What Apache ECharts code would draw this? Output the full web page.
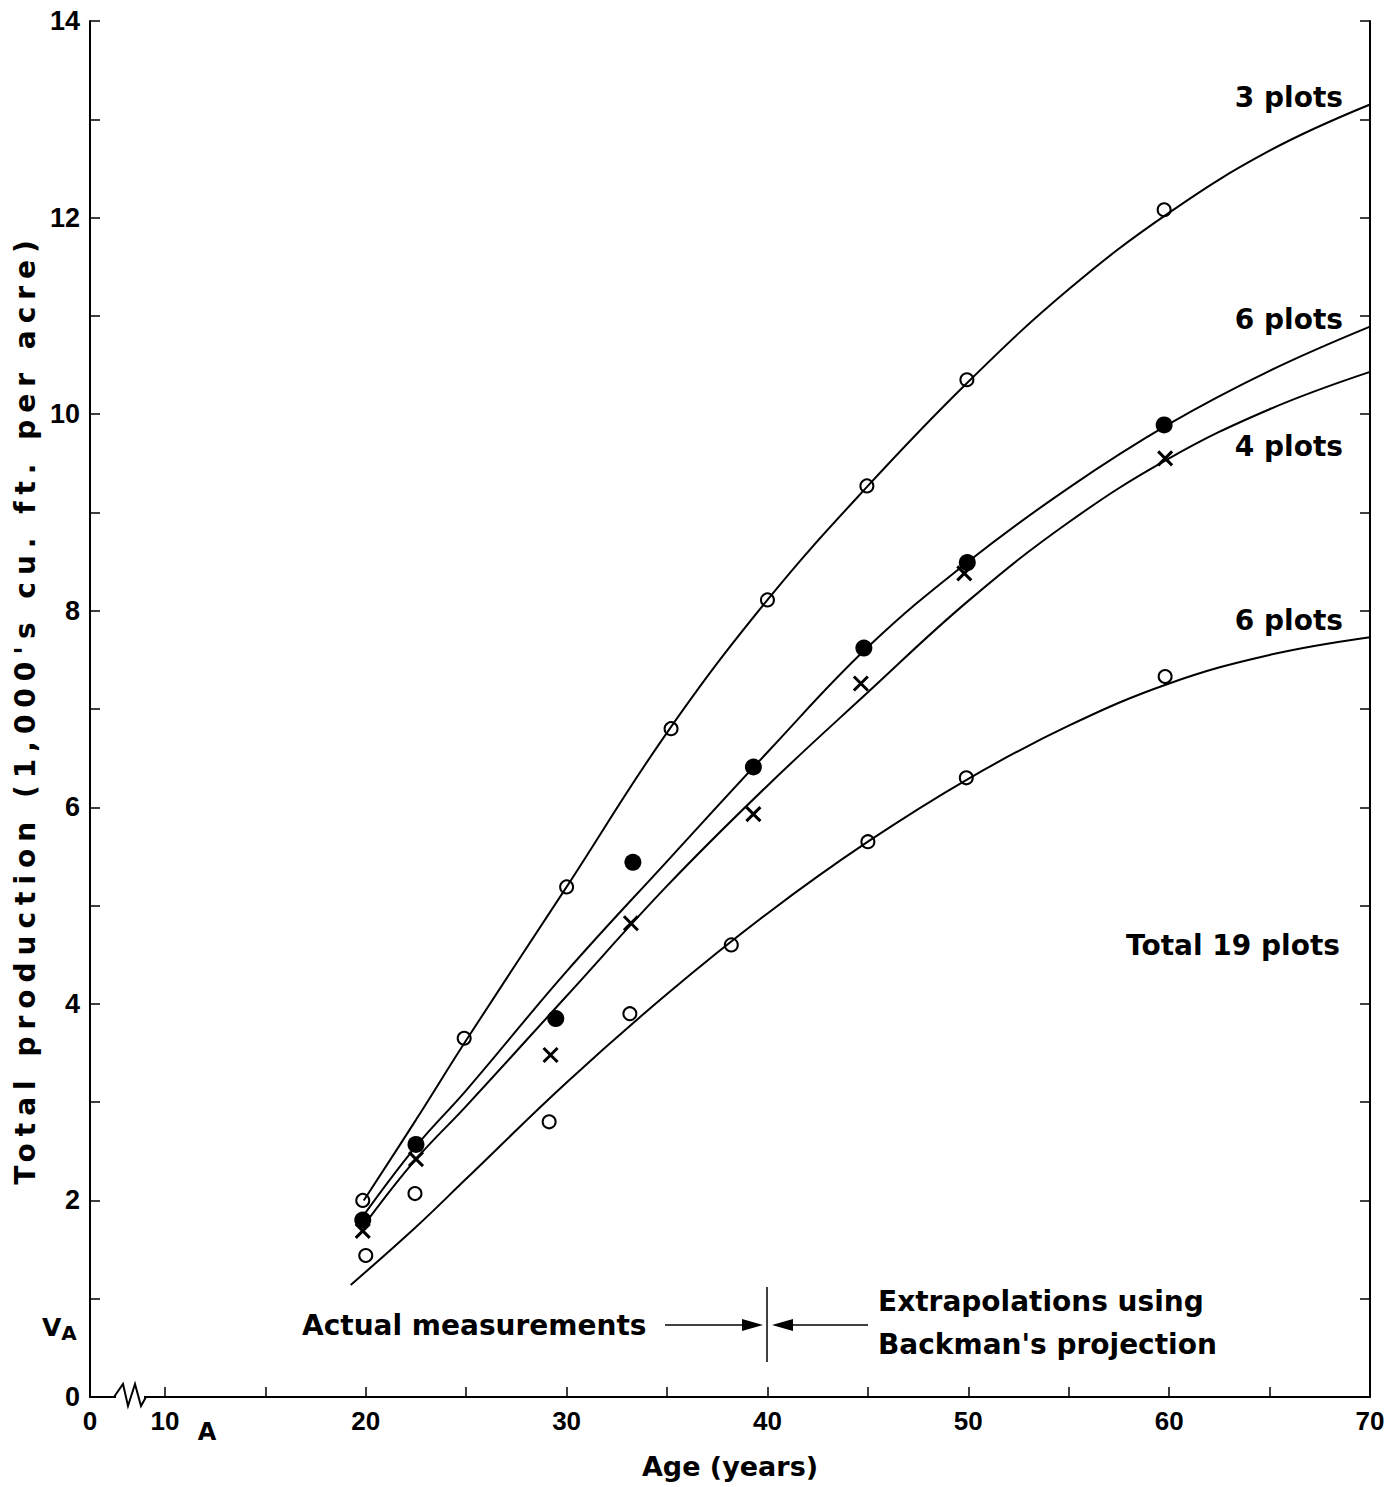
<!DOCTYPE html>
<html>
<head>
<meta charset="utf-8">
<script src="https://cdn.jsdelivr.net/npm/echarts@6/dist/echarts.min.js"></script>
<style>
html,body{margin:0;padding:0;background:#fff;}
#chart{width:1398px;height:1487px;}
</style>
</head>
<body>
<div id="chart"></div>
<script>
// ---------------- DATA ----------------
// x value at the broken-axis origin, labelled "0"
const X_ORIGIN = 6.27;
const xTickValues = [X_ORIGIN, 10, 20, 30, 40, 50, 60, 70];
const xTickLabels = ['0', '10', '20', '30', '40', '50', '60', '70'];
const xTickMarks = [10, 15, 20, 25, 30, 35, 40, 45, 50, 55, 60, 65];
const yTickValues = [0, 2, 4, 6, 8, 10, 12, 14];
const yTickLabels = ['0', '2', '4', '6', '8', '10', '12', '14'];

// Fitted curves
const curve3Age = [19.9, 22.5, 25, 30, 35, 40, 45, 50, 55, 60, 65, 70];
const curve3Vol = [2.0, 2.82, 3.63, 5.19, 6.76, 8.11, 9.27, 10.33, 11.27, 12.05, 12.68, 13.15];

const curve6aAge = [19.9, 22.5, 25, 30, 35, 40, 45, 50, 55, 60, 65, 70];
const curve6aVol = [1.85, 2.55, 3.12, 4.33, 5.45, 6.56, 7.63, 8.50, 9.25, 9.90, 10.44, 10.89];

const curve4Age = [20.1, 22.5, 25, 30, 35, 40, 45, 50, 55, 60, 65, 70];
const curve4Vol = [1.80, 2.42, 2.96, 4.08, 5.20, 6.22, 7.17, 8.10, 8.90, 9.55, 10.05, 10.43];

const curve6bAge = [19.25, 22.5, 25, 30, 35, 40, 45, 50, 55, 60, 65, 70];
const curve6bVol = [1.14, 1.73, 2.22, 3.20, 4.10, 4.92, 5.65, 6.29, 6.83, 7.26, 7.55, 7.73];

// Observed points
const pts3Age = [19.85, 24.9, 30.0, 35.2, 40.0, 44.95, 49.93, 59.75];
const pts3Vol = [2.00, 3.65, 5.19, 6.80, 8.11, 9.27, 10.35, 12.08];

const pts6aAge = [19.85, 22.5, 29.46, 33.3, 39.3, 44.8, 49.95, 59.75];
const pts6aVol = [1.80, 2.57, 3.85, 5.44, 6.41, 7.62, 8.49, 9.89];

const pts4Age = [19.85, 22.5, 29.2, 33.2, 39.3, 44.65, 49.8, 59.8];
const pts4Vol = [1.69, 2.42, 3.48, 4.82, 5.93, 7.26, 8.38, 9.55];

const pts6bAge = [20.0, 22.45, 29.13, 33.15, 38.2, 45.0, 49.9, 59.8];
const pts6bVol = [1.44, 2.07, 2.80, 3.90, 4.60, 5.65, 6.30, 7.33];

// ---------------- CHART ----------------
const zip = (a, b) => a.map((v, i) => [v, b[i]]);
const BLACK = '#000';
const TXT = 'bold 28px "DejaVu Sans"';
const TICKFONT = 'Liberation Sans';
const Y_NAME = "Total production (1,000's cu. ft. per acre)";

function curve(name, ax, vy) {
  return {
    name: name, type: 'line', data: zip(ax, vy), showSymbol: false,
    smooth: 0.4,
    lineStyle: { color: BLACK, width: 2 }, z: 2, silent: true
  };
}
function pts(name, ax, vy, symbol, size, fill, bw) {
  return {
    name: name, type: 'scatter', data: zip(ax, vy), symbol: symbol, symbolSize: size,
    itemStyle: { color: fill, borderColor: BLACK, borderWidth: bw, opacity: 1 },
    z: 3, silent: true
  };
}

function txt(x, y, text, align) {
  return {
    type: 'text', x: x, y: y, z: 100,
    style: { text: text, font: TXT, fill: BLACK, textAlign: align, align: align,
             textVerticalAlign: 'middle', verticalAlign: 'middle' }
  };
}

const chart = echarts.init(document.getElementById('chart'), null, { renderer: 'svg' });
chart.setOption({
  animation: false,
  backgroundColor: '#fff',
  grid: { left: 90, right: 28, top: 21, bottom: 90 },
  xAxis: {
    type: 'value', min: X_ORIGIN, max: 70,
    name: 'Age (years)', nameLocation: 'middle', nameGap: 56,
    nameTextStyle: { fontFamily: 'DejaVu Sans', fontWeight: 'bold', fontSize: 27, color: BLACK },
    axisLine: { show: true, lineStyle: { color: BLACK, width: 2 } },
    axisTick: { show: true, inside: true, length: 10, customValues: xTickMarks,
                lineStyle: { color: BLACK, width: 1.5 } },
    axisLabel: { customValues: xTickValues, margin: 11,
                 formatter: v => { const i = xTickValues.indexOf(v); return i >= 0 ? xTickLabels[i] : ''; },
                 fontFamily: TICKFONT, fontWeight: 'bold', fontSize: 26, color: BLACK },
    splitLine: { show: false }
  },
  yAxis: [{
    type: 'value', min: 0, max: 14, interval: 1, position: 'left',
    name: Y_NAME, nameLocation: 'middle', nameGap: 47,
    nameTextStyle: { fontFamily: 'DejaVu Sans', fontWeight: 'bold', fontSize: 28, color: BLACK },
    axisLine: { show: true, lineStyle: { color: BLACK, width: 2 } },
    axisTick: { show: true, inside: true, length: 10, lineStyle: { color: BLACK, width: 1.5 } },
    axisLabel: { customValues: yTickValues, margin: 10,
                 formatter: v => { const i = yTickValues.indexOf(v); return i >= 0 ? yTickLabels[i] : ''; },
                 fontFamily: TICKFONT, fontWeight: 'bold', fontSize: 27, color: BLACK },
    splitLine: { show: false }
  }, {
    type: 'value', min: 0, max: 14, interval: 1, position: 'right',
    axisLine: { show: true, lineStyle: { color: BLACK, width: 2 } },
    axisTick: { show: true, inside: true, length: 10, lineStyle: { color: BLACK, width: 1.5 } },
    axisLabel: { show: false },
    splitLine: { show: false }
  }],
  series: [
    curve('3 plots curve', curve3Age, curve3Vol),
    curve('6 plots curve', curve6aAge, curve6aVol),
    curve('4 plots curve', curve4Age, curve4Vol),
    curve('6 plots (lower) curve', curve6bAge, curve6bVol),
    pts('3 plots', pts3Age, pts3Vol, 'circle', 13, 'rgba(0,0,0,0)', 2),
    pts('6 plots', pts6aAge, pts6aVol, 'circle', 17, BLACK, 0),
    pts('4 plots', pts4Age, pts4Vol, 'path://M0,0L10,10M10,0L0,10', 14, 'rgba(0,0,0,0)', 3),
    pts('6 plots (lower)', pts6bAge, pts6bVol, 'circle', 13, 'rgba(0,0,0,0)', 2)
  ],
  graphic: [
    txt(1343, 97, '3 plots', 'right'),
    txt(1343, 319, '6 plots', 'right'),
    txt(1343, 446, '4 plots', 'right'),
    txt(1343, 620, '6 plots', 'right'),
    txt(1340, 945, 'Total 19 plots', 'right'),
    txt(302, 1325, 'Actual measurements', 'left'),
    txt(878, 1301, 'Extrapolations using', 'left'),
    txt(878, 1344, "Backman's projection", 'left'),
    // divider and arrows
    { type: 'line', z: 100, shape: { x1: 767, y1: 1287, x2: 767, y2: 1362 }, style: { stroke: BLACK, lineWidth: 1.5 } },
    { type: 'line', z: 100, shape: { x1: 665, y1: 1325, x2: 746, y2: 1325 }, style: { stroke: BLACK, lineWidth: 1.5 } },
    { type: 'polygon', z: 100, shape: { points: [[742, 1319], [763, 1325], [742, 1331]] }, style: { fill: BLACK } },
    { type: 'line', z: 100, shape: { x1: 789, y1: 1325, x2: 868, y2: 1325 }, style: { stroke: BLACK, lineWidth: 1.5 } },
    { type: 'polygon', z: 100, shape: { points: [[793, 1319], [772, 1325], [793, 1331]] }, style: { fill: BLACK } },
    // axis break
    { type: 'rect', z: 100, shape: { x: 116, y: 1393, width: 28, height: 8 }, style: { fill: '#fff' } },
    { type: 'polyline', z: 101, shape: { points: [[114, 1397], [123, 1384], [128, 1406], [135, 1384], [141, 1406], [146, 1397]] },
      style: { stroke: BLACK, lineWidth: 2, fill: null } },
    // V_A and A axis symbols
    { type: 'text', x: 42, y: 1327, z: 100,
      style: { rich: { v: { font: 'bold 25px "DejaVu Sans"', fill: BLACK }, s: { font: 'bold 20px "DejaVu Sans"', fill: BLACK, padding: [12, 0, 0, 0] } },
               text: '{v|V}{s|A}', verticalAlign: 'middle', textVerticalAlign: 'middle' } },
    { type: 'text', x: 207, y: 1432, z: 100,
      style: { text: 'A', font: 'bold 24px "DejaVu Sans"', fill: BLACK, align: 'center', textAlign: 'center',
               verticalAlign: 'middle', textVerticalAlign: 'middle' } }
  ]
});

// widen the letter spacing of the vertical axis title, as in the original typesetting
function spaceYName() {
  document.querySelectorAll('#chart svg text').forEach(t => {
    if (t.textContent === Y_NAME) { t.setAttribute('letter-spacing', '7'); t.style.letterSpacing = '7px'; }
  });
}
spaceYName();
chart.on('finished', spaceYName);
</script>
</body>
</html>
